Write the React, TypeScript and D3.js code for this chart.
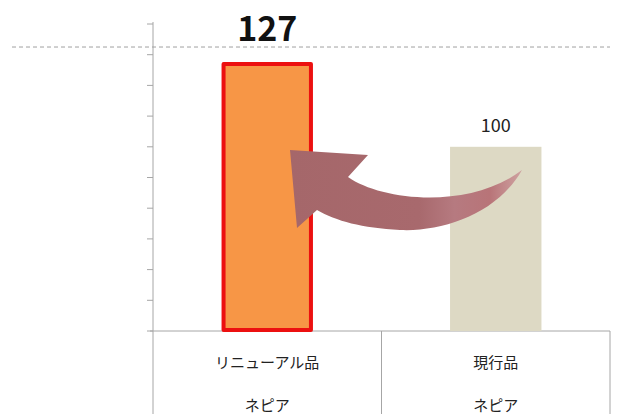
import React from "react";
import * as d3 from "d3";

const categories = ["リニューアル品", "現行品"];
const brandLabels = ["ネピア", "ネピア"];
const values = [127, 100];
const yDomain = [40, 140];
const tickValues = d3.range(40, 141, 10);
const referenceValue = 132.5;

const W = 619;
const H = 414;
const left = 153;
const right = 610;
const top = 24;
const baseline = 331;

export default function App() {
  const x = d3
    .scaleBand<string>()
    .domain(categories)
    .range([left, right])
    .paddingInner(0.6)
    .paddingOuter(0.3);
  const y = d3.scaleLinear().domain(yDomain).range([baseline, top]);
  const step = x.step();

  const arrowPath =
    "M290,150 L368,155 L348,177 C382,201 470,210 522,170 C497,214 443,232 400,230 C362,228 336,221 317,210 L297,228 Z";

  return (
    <svg
      width={W}
      height={H}
      style={{ position: "absolute", left: 0, top: 0, fontFamily: "'Noto Sans CJK JP', sans-serif" }}
    >
      <defs>
        <linearGradient id="arrowGrad" x1="290" y1="0" x2="525" y2="0" gradientUnits="userSpaceOnUse">
          <stop offset="0" stopColor="#a5676a" />
          <stop offset="0.55" stopColor="#a8696d" />
          <stop offset="0.7" stopColor="#b67a80" />
          <stop offset="0.85" stopColor="#b87478" />
          <stop offset="1" stopColor="#c98e94" stopOpacity="0.7" />
        </linearGradient>
      </defs>
      <rect width={W} height={H} fill="#fff" />

      {/* axis line */}
      <line x1={left} x2={left} y1={top - 2} y2={H} stroke="#a6a6a6" strokeWidth={1} />
      {tickValues.map((t) => (
        <line key={t} x1={left - 6} x2={left} y1={y(t)} y2={y(t)} stroke="#a6a6a6" strokeWidth={1} />
      ))}

      {/* category table */}
      <line x1={left - 3} x2={right} y1={baseline} y2={baseline} stroke="#a6a6a6" />
      {categories.map((c, i) => (
        <line
          key={"v" + i}
          x1={left + step * (i + 1)}
          x2={left + step * (i + 1)}
          y1={baseline}
          y2={H}
          stroke="#a6a6a6"
        />
      ))}

      {/* bars */}
      {categories.map((c, i) => {
        const bx = x(c)!;
        const bw = x.bandwidth();
        if (i === 0) {
          return (
            <rect
              key={c}
              x={bx + 2}
              y={y(values[i])}
              width={bw - 4}
              height={baseline - y(values[i]) - 1}
              fill="#f79646"
              stroke="#ec1010"
              strokeWidth={4}
              strokeLinejoin="round"
            />
          );
        }
        return (
          <rect key={c} x={bx} y={y(values[i])} width={bw} height={baseline - y(values[i])} fill="#ddd9c4" />
        );
      })}

      {/* reference dashed line */}
      <line
        x1={12}
        x2={right}
        y1={y(referenceValue)}
        y2={y(referenceValue)}
        stroke="#a0a0a0"
        strokeWidth={1}
        strokeDasharray="4,3"
      />

      {/* value labels */}
      <text
        x={x(categories[0])! + x.bandwidth() / 2}
        y={41}
        textAnchor="middle"
        fontSize={34}
        fontWeight="bold"
        fill="#111"
      >
        {values[0]}
      </text>
      <text
        x={x(categories[1])! + x.bandwidth() / 2}
        y={132}
        textAnchor="middle"
        fontSize={18}
        fill="#222"
      >
        {values[1]}
      </text>

      {/* arrow */}
      <path d={arrowPath} fill="url(#arrowGrad)" />

      {/* category labels */}
      {categories.map((c, i) => (
        <g key={"l" + i}>
          <text x={x(c)! + x.bandwidth() / 2} y={368} textAnchor="middle" fontSize={15} fill="#222">
            {c}
          </text>
          <text x={x(c)! + x.bandwidth() / 2} y={411} textAnchor="middle" fontSize={15} fill="#222">
            {brandLabels[i]}
          </text>
        </g>
      ))}
    </svg>
  );
}
